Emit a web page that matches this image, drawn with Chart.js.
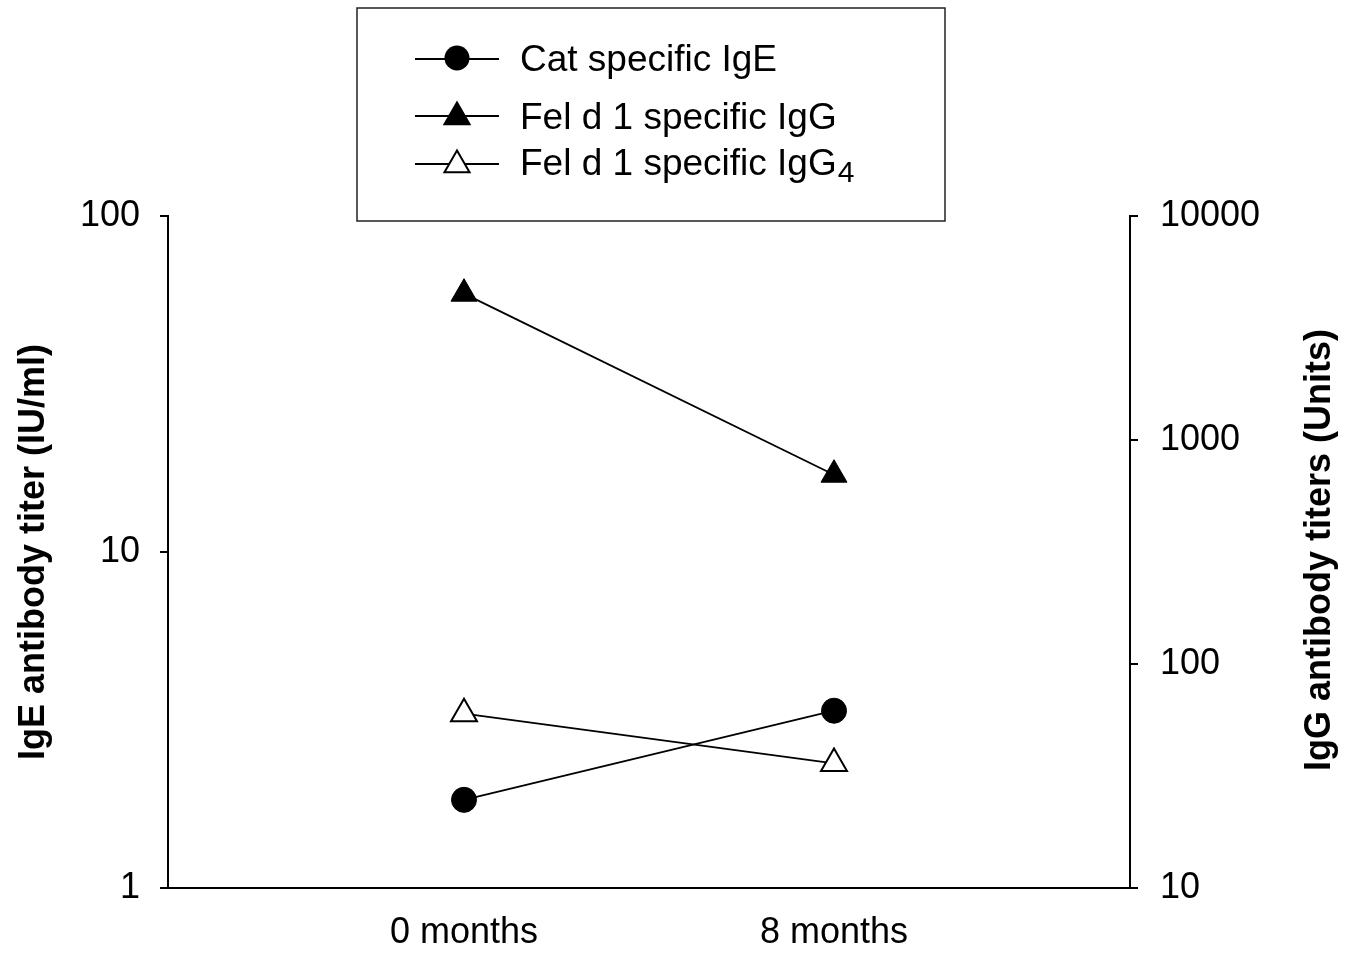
<!DOCTYPE html>
<html>
<head>
<meta charset="utf-8">
<script src="https://cdn.jsdelivr.net/npm/chart.js"></script>
<style>
  html, body { margin: 0; padding: 0; background: #fff; }
  #wrap { width: 1356px; height: 958px; }
</style>
</head>
<body>
<div id="wrap"><canvas id="titerChart" width="1356" height="958"></canvas></div>
<script>
// values
const timeLabels = ['0 months', '8 months'];
const catIgE = [1.83, 3.37];          // IU/ml, left axis
const felIgG = [4500, 700];           // Units, right axis
const felIgG4 = [60, 36];             // Units, right axis
const leftTicks = [1, 10, 100];
const rightTicks = [10, 100, 1000, 10000];

const FONT = 'Liberation Sans, Arial, Helvetica, sans-serif';

function toPoints(values) {
  return values.map((v, i) => ({ x: i, y: v }));
}

function fixedTicks(values) {
  return (scale) => { scale.ticks = values.map(v => ({ value: v })); };
}

function trianglePath(ctx, x, y, r) {
  ctx.beginPath();
  ctx.moveTo(x, y - r);
  ctx.lineTo(x + r * Math.sin(2 * Math.PI / 3), y - r * Math.cos(2 * Math.PI / 3));
  ctx.lineTo(x + r * Math.sin(4 * Math.PI / 3), y - r * Math.cos(4 * Math.PI / 3));
  ctx.closePath();
}

// legend box + right title (reads bottom to top, unlike chart.js default)
const extrasPlugin = {
  id: 'extras',
  afterDraw(chart) {
    const ctx = chart.ctx;
    ctx.save();

    // right axis title
    ctx.translate(1320, 550);
    ctx.rotate(-Math.PI / 2);
    ctx.font = 'bold 36px ' + FONT;
    ctx.fillStyle = '#000';
    ctx.textAlign = 'center';
    ctx.textBaseline = 'middle';
    ctx.fillText('IgG antibody titers (Units)', 0, 0);
    ctx.restore();

    // legend box
    ctx.save();
    ctx.fillStyle = '#fff';
    ctx.fillRect(357, 8, 588, 213);
    ctx.strokeStyle = '#222';
    ctx.lineWidth = 1.5;
    ctx.strokeRect(357, 8, 588, 213);

    const rows = [
      { y: 59, text: 'Cat specific IgE', marker: 'circle', fill: '#000', base: 71 },
      { y: 116, text: 'Fel d 1 specific IgG', marker: 'triangle', fill: '#000', base: 129 },
      { y: 164, text: 'Fel d 1 specific IgG', sub: '4', marker: 'triangle', fill: '#fff', base: 175 }
    ];
    rows.forEach(row => {
      ctx.strokeStyle = '#000';
      ctx.lineWidth = 2;
      ctx.beginPath();
      ctx.moveTo(415, row.y);
      ctx.lineTo(499, row.y);
      ctx.stroke();

      ctx.fillStyle = row.fill;
      ctx.lineWidth = 2;
      if (row.marker === 'circle') {
        ctx.beginPath();
        ctx.arc(457, row.y - 1, 12.5, 0, Math.PI * 2);
        ctx.fill();
      } else {
        trianglePath(ctx, 457, row.y + 1, 14.5);
        ctx.fill();
        ctx.stroke();
      }

      ctx.fillStyle = '#000';
      ctx.font = '37px ' + FONT;
      ctx.textAlign = 'left';
      ctx.textBaseline = 'alphabetic';
      ctx.fillText(row.text, 520, row.base);
      if (row.sub) {
        const w = ctx.measureText(row.text).width;
        ctx.font = '30px ' + FONT;
        ctx.fillText(row.sub, 520 + w + 1, row.base + 7);
      }
    });
    ctx.restore();
  }
};

const ctx = document.getElementById('titerChart');

new Chart(ctx, {
  type: 'line',
  data: {
    datasets: [
      {
        label: 'Fel d 1 specific IgG',
        data: toPoints(felIgG),
        yAxisID: 'y2',
        borderColor: '#000',
        borderWidth: 1.8,
        pointStyle: 'triangle',
        pointRadius: 15,
        pointBackgroundColor: '#000',
        pointBorderColor: '#000',
        pointBorderWidth: 1
      },
      {
        label: 'Fel d 1 specific IgG4',
        data: toPoints(felIgG4),
        yAxisID: 'y2',
        borderColor: '#000',
        borderWidth: 1.8,
        pointStyle: 'triangle',
        pointRadius: 15,
        pointBackgroundColor: '#fff',
        pointBorderColor: '#000',
        pointBorderWidth: 2
      },
      {
        label: 'Cat specific IgE',
        data: toPoints(catIgE),
        yAxisID: 'y',
        borderColor: '#000',
        borderWidth: 1.8,
        pointStyle: 'circle',
        pointRadius: 12.5,
        pointBackgroundColor: '#000',
        pointBorderColor: '#000',
        pointBorderWidth: 1
      }
    ]
  },
  options: {
    responsive: false,
    animation: false,
    layout: { padding: { top: 216, left: 0, right: 0, bottom: 0 } },
    plugins: { legend: { display: false }, tooltip: { enabled: false } },
    scales: {
      x: {
        type: 'linear',
        min: -0.8,
        max: 1.8,
        afterBuildTicks: fixedTicks([0, 1]),
        afterFit: (s) => { s.height = 70; },
        grid: { display: false, drawTicks: false },
        border: { display: true, color: '#000', width: 2 },
        ticks: {
          color: '#000',
          font: { family: FONT, size: 36 },
          padding: 23,
          maxRotation: 0,
          callback: (v) => timeLabels[v] ?? ''
        }
      },
      y: {
        type: 'logarithmic',
        position: 'left',
        min: 1,
        max: 100,
        afterBuildTicks: fixedTicks(leftTicks),
        afterFit: (s) => { s.width = 168; },
        grid: { drawOnChartArea: false, drawTicks: true, tickLength: 8, color: '#000', lineWidth: 2 },
        border: { display: true, color: '#000', width: 2 },
        ticks: {
          color: '#000',
          font: { family: FONT, size: 36 },
          padding: 20,
          callback: (v) => String(v)
        },
        title: {
          display: true,
          text: 'IgE antibody titer (IU/ml)',
          color: '#000',
          font: { family: FONT, size: 36, weight: 'bold' },
          padding: { top: 12, bottom: 0 }
        }
      },
      y2: {
        type: 'logarithmic',
        position: 'right',
        min: 10,
        max: 10000,
        afterBuildTicks: fixedTicks(rightTicks),
        afterFit: (s) => { s.width = 226; },
        grid: { drawOnChartArea: false, drawTicks: true, tickLength: 8, color: '#000', lineWidth: 2 },
        border: { display: true, color: '#000', width: 2 },
        ticks: {
          color: '#000',
          font: { family: FONT, size: 36 },
          padding: 22,
          callback: (v) => String(v)
        }
      }
    }
  },
  plugins: [extrasPlugin]
});
</script>
</body>
</html>
